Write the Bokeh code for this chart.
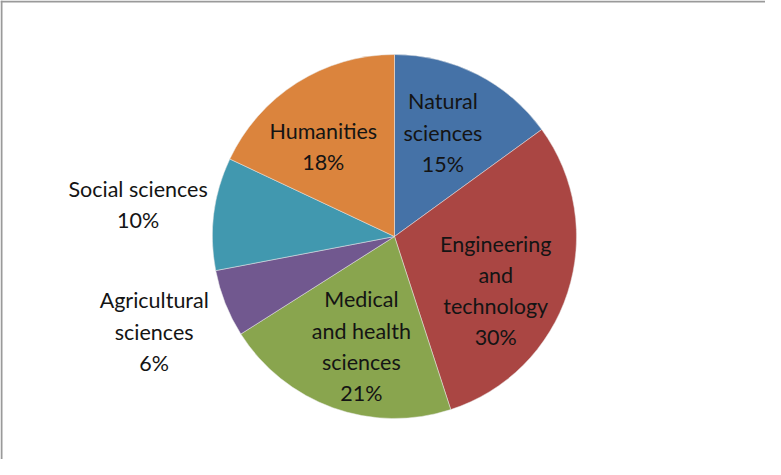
import math
from bokeh.plotting import figure
from bokeh.models import ColumnDataSource, Range1d, Span
from bokeh.core.properties import value
from bokeh.embed import file_html
from bokeh.resources import INLINE

# ---- data ----
categories = ["Natural sciences", "Engineering and technology", "Medical and health sciences",
              "Agricultural sciences", "Social sciences", "Humanities"]
label_lines = ["Natural\nsciences", "Engineering\nand\ntechnology", "Medical\nand health\nsciences",
               "Agricultural\nsciences", "Social sciences", "Humanities"]
percents = [15, 30, 21, 6, 10, 18]
colors = ["#4572A7", "#AA4643", "#89A54E", "#71588F", "#4198AF", "#DB843D"]

# ---- layout ----
W, H = 765, 459
cx, cy = 402, 475 - 244
R = 182
outside = [False, False, False, True, True, False]
angle_nudge_deg = [2, -10, 3, 0, 0, 6]

total = sum(percents)
starts, ends, lx, ly, texts = [], [], [], [], []
cum = 0.0
for i, v in enumerate(percents):
    a0 = math.pi / 2 - 2 * math.pi * cum / total
    cum += v
    a1 = math.pi / 2 - 2 * math.pi * cum / total
    starts.append(a0)
    ends.append(a1)
    mid = (a0 + a1) / 2 + math.radians(angle_nudge_deg[i])
    rf = 1.42 if outside[i] else 0.63
    lx.append(cx + rf * R * math.cos(mid))
    ly.append(cy + rf * R * math.sin(mid))
    texts.append(f"{label_lines[i]}\n{v}%")

src = ColumnDataSource(dict(start=starts, end=ends, color=colors, cat=categories))
lsrc = ColumnDataSource(dict(x=lx, y=ly, text=texts))

p = figure(width=W, height=H, output_backend="svg", toolbar_location=None,
           x_range=Range1d(8, 8 + W), y_range=Range1d(475 - 8 - H, 475 - 8),
           min_border=0)
p.axis.visible = False
p.grid.visible = False
p.outline_line_color = None
p.background_fill_color = "white"
p.border_fill_color = "white"

p.wedge(x=cx, y=cy, radius=R, start_angle="start", end_angle="end", direction="clock",
        fill_color="color", line_color="#e8e8e8", line_width=0.5, source=src)

p.text(x="x", y="y", text="text", source=lsrc, text_align="center", text_baseline="middle",
       text_font=value("Lato"), text_font_size="21.5px", text_color="#141414",
       text_line_height=1.2)

p.add_layout(Span(location=9, dimension="height", line_color="#9a9a9a", line_width=2))
p.add_layout(Span(location=475 - 9, dimension="width", line_color="#9a9a9a", line_width=2))

open("out.html", "w").write(file_html(p, INLINE))
